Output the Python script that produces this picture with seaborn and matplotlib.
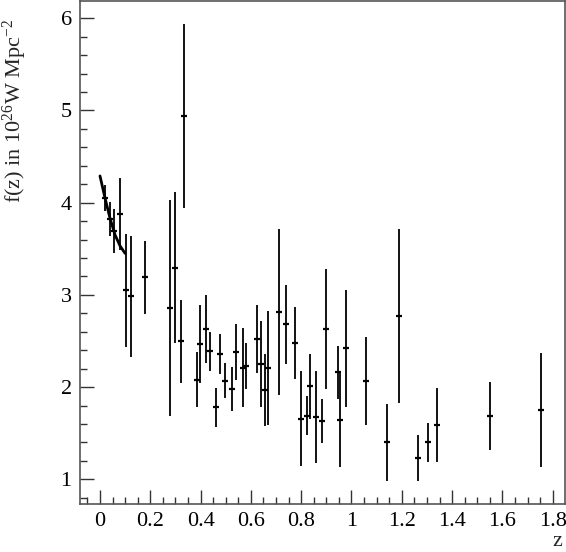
import matplotlib
matplotlib.use("Agg")
import matplotlib.pyplot as plt
import matplotlib.ticker as mticker
import seaborn as sns
import pandas as pd

# measured points: redshift, f(z), symmetric error
z = [0.020, 0.040, 0.057, 0.080, 0.102, 0.123, 0.178, 0.278, 0.299, 0.321,
     0.336, 0.384, 0.399, 0.420, 0.438, 0.463, 0.476, 0.498, 0.525, 0.539,
     0.569, 0.582, 0.623, 0.639, 0.657, 0.669, 0.711, 0.738, 0.774, 0.798,
     0.822, 0.835, 0.859, 0.883, 0.899, 0.945, 0.954, 0.977, 1.056, 1.140,
     1.190, 1.266, 1.305, 1.340, 1.550, 1.755]
fz = [4.05, 3.82, 3.69, 3.88, 3.05, 2.985, 3.19, 2.857, 3.294, 2.50,
      4.94, 2.08, 2.47, 2.63, 2.39, 1.78, 2.36, 2.07, 1.98, 2.38,
      2.21, 2.23, 2.52, 2.25, 1.97, 2.21, 2.82, 2.68, 2.475, 1.66,
      1.69, 2.01, 1.68, 1.63, 2.63, 2.16, 1.64, 2.42, 2.065, 1.40,
      2.77, 1.235, 1.40, 1.59, 1.69, 1.75]
err = [0.145, 0.185, 0.24, 0.39, 0.61, 0.655, 0.40, 1.17, 0.82, 0.45,
       1.00, 0.30, 0.42, 0.37, 0.21, 0.21, 0.215, 0.19, 0.24, 0.30,
       0.43, 0.25, 0.37, 0.47, 0.39, 0.62, 0.90, 0.43, 0.39, 0.51,
       0.21, 0.35, 0.50, 0.24, 0.65, 0.29, 0.51, 0.63, 0.475, 0.42,
       0.94, 0.25, 0.21, 0.40, 0.37, 0.62]

# low-z fit curve
fit_z = [0.00, 0.02, 0.04, 0.06, 0.08, 0.10]
fit_f = [4.29, 4.05, 3.83, 3.65, 3.53, 3.45]

df = pd.DataFrame({"z": z, "f": fz, "err": err})
fit = pd.DataFrame({"z": fit_z, "f": fit_f})

sns.set_style("ticks")
plt.rcParams["font.family"] = ["Liberation Serif", "DejaVu Serif"]
plt.rcParams["mathtext.fontset"] = "custom"
plt.rcParams["mathtext.rm"] = "Liberation Serif"
plt.rcParams["mathtext.it"] = "Liberation Serif"

fig = plt.figure(figsize=(5.66, 5.52), dpi=100)
ax = fig.add_axes([80 / 566, 48 / 552, 485 / 566, 503 / 552])

ax.errorbar(df["z"], df["f"], yerr=df["err"], fmt="none", ecolor="black",
            elinewidth=1.3, capsize=0)
sns.scatterplot(data=df, x="z", y="f", marker="_", s=25, linewidth=1.6,
                color="black", ax=ax, zorder=3)
sns.lineplot(data=fit, x="z", y="f", color="black", linewidth=2, ax=ax)

ax.set_xlim(-0.0795, 1.849)
ax.set_ylim(0.733, 6.187)
ax.xaxis.set_major_locator(mticker.MultipleLocator(0.2))
ax.xaxis.set_minor_locator(mticker.MultipleLocator(0.05))
ax.yaxis.set_major_locator(mticker.MultipleLocator(1))
ax.yaxis.set_minor_locator(mticker.MultipleLocator(0.2))
ax.xaxis.set_major_formatter(mticker.FormatStrFormatter("%g"))

ax.tick_params(which="both", direction="in", colors="#333333", labelcolor="black",
               labelsize=16, width=1)
ax.tick_params(which="major", length=10, pad=6)
ax.tick_params(which="minor", length=5)

for sp in ax.spines.values():
    sp.set_visible(True)
    sp.set_color("#555555")
    sp.set_linewidth(1.2)

ax.set_xlabel("z", fontsize=16, loc="right")
ax.set_ylabel(r"f(z) in 10$^{26}$W Mpc$^{-2}$", fontsize=16, loc="top")
ax.yaxis.set_label_coords(-0.105, 0.965)
ax.xaxis.set_label_coords(0.995, -0.055)

fig.savefig("out.png", dpi=100)
